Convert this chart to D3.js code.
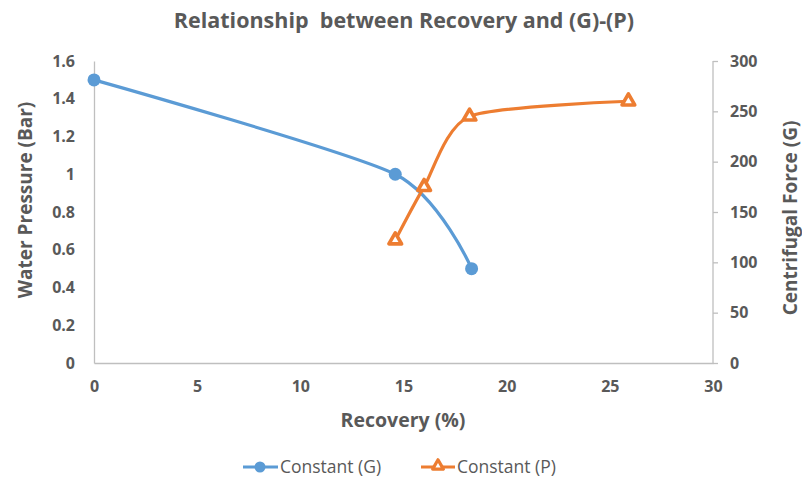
<!DOCTYPE html>
<html><head><meta charset="utf-8">
<script src="https://cdn.jsdelivr.net/npm/d3@7"></script>
<style>body{margin:0;background:#fff}svg{display:block}text{font-family:"Open Sans",sans-serif}</style>
</head><body>
<svg id="c" width="802" height="484"></svg>
<script>
const recoveryG = [0, 14.6, 18.3];
const pressureG = [1.5, 1.0, 0.5];
const recoveryP = [14.6, 16.0, 18.2, 25.9];
const forceP = [122, 175, 245, 260];
const xTicks = [0, 5, 10, 15, 20, 25, 30];
const yLeftTicks = [0, 0.2, 0.4, 0.6, 0.8, 1, 1.2, 1.4, 1.6];
const yRightTicks = [0, 50, 100, 150, 200, 250, 300];

const svg = d3.select("#c");
const L = 94, R = 713, T = 61, B = 363;
const x = d3.scaleLinear().domain([0, 30]).range([L, R]);
const yl = d3.scaleLinear().domain([0, 1.6]).range([B, T]);
const yr = d3.scaleLinear().domain([0, 300]).range([B, T]);
const gray = "#595959", axisC = "#bfbfbf";
const blue = "#5b9bd5", orange = "#ed7d31";
const FF = '"Open Sans",sans-serif';

svg.append("text").attr("x", 404).attr("y", 28).attr("text-anchor", "middle")
  .attr("font-size", 21.5).attr("font-weight", "bold").attr("fill", gray)
  .style("white-space", "pre").text("Relationship  between Recovery and (G)-(P)");

// axes
const ax = svg.append("g").attr("transform", `translate(0,${B})`).call(d3.axisBottom(x).tickValues(xTicks).tickSize(0).tickPadding(18));
const al = svg.append("g").attr("transform", `translate(${L},0)`).call(d3.axisLeft(yl).tickValues(yLeftTicks).tickFormat(d => String(+d.toFixed(1))).tickSize(0).tickPadding(19));
const ar = svg.append("g").attr("transform", `translate(${R},0)`).call(d3.axisRight(yr).tickValues(yRightTicks).tickSize(5).tickPadding(12));
[ax, al, ar].forEach(g => {
  g.select(".domain").attr("stroke", axisC).attr("stroke-width", 1.3);
  g.selectAll(".tick line").attr("stroke", axisC).attr("stroke-width", 1.3);
  g.selectAll(".tick text").attr("fill", gray).attr("font-size", 16).attr("font-weight", "bold").attr("font-family", FF);
});
ar.select(".domain").attr("d", `M0,${B}V${T}`);

// axis titles
svg.append("text").attr("x", 403).attr("y", 427).attr("text-anchor", "middle")
  .attr("font-size", 19.5).attr("font-weight", "bold").attr("fill", gray).text("Recovery (%)");
svg.append("text").attr("transform", `translate(32,${(T + B) / 2 - 12}) rotate(-90)`).attr("text-anchor", "middle")
  .attr("font-size", 19).attr("font-weight", "bold").attr("fill", gray).text("Water Pressure (Bar)");
svg.append("text").attr("transform", `translate(797,${(T + B) / 2 + 6}) rotate(-90)`).attr("text-anchor", "middle")
  .attr("font-size", 19).attr("font-weight", "bold").attr("fill", gray).text("Centrifugal Force (G)");

// lines
const gData = recoveryG.map((d, i) => [d, pressureG[i]]);
const pData = recoveryP.map((d, i) => [d, forceP[i]]);
const curve = d3.curveCardinal.tension(0.3);
svg.append("path").attr("d", d3.line().x(d => x(d[0])).y(d => yl(d[1])).curve(curve)(gData))
  .attr("fill", "none").attr("stroke", blue).attr("stroke-width", 3.2).attr("stroke-linecap", "round");
svg.append("path").attr("d", d3.line().x(d => x(d[0])).y(d => yr(d[1])).curve(curve)(pData))
  .attr("fill", "none").attr("stroke", orange).attr("stroke-width", 3.2).attr("stroke-linecap", "round");

svg.selectAll(".mg").data(gData).enter().append("circle")
  .attr("cx", d => x(d[0])).attr("cy", d => yl(d[1])).attr("r", 6.5).attr("fill", blue);
const tri = d3.symbol().type(d3.symbolTriangle).size(70);
svg.selectAll(".mp").data(pData).enter().append("path")
  .attr("d", tri).attr("transform", d => `translate(${x(d[0])},${yr(d[1])})`)
  .attr("fill", "#fff").attr("stroke", orange).attr("stroke-width", 3.6).attr("stroke-linejoin", "round");

// legend
const lg = svg.append("g");
lg.append("line").attr("x1", 243).attr("x2", 278).attr("y1", 467).attr("y2", 467).attr("stroke", blue).attr("stroke-width", 3.2);
lg.append("circle").attr("cx", 260).attr("cy", 467).attr("r", 5.5).attr("fill", blue);
lg.append("text").attr("x", 280).attr("y", 473).attr("font-size", 17.5).attr("fill", gray).text("Constant (G)");
lg.append("line").attr("x1", 421).attr("x2", 455).attr("y1", 467).attr("y2", 467).attr("stroke", orange).attr("stroke-width", 3.2);
lg.append("path").attr("d", d3.symbol().type(d3.symbolTriangle).size(50)).attr("transform", "translate(438,466)").attr("fill", "#fff").attr("stroke", orange).attr("stroke-width", 3.2).attr("stroke-linejoin", "round");
lg.append("text").attr("x", 457).attr("y", 473).attr("font-size", 17.5).attr("fill", gray).text("Constant (P)");
</script>
</body></html>
